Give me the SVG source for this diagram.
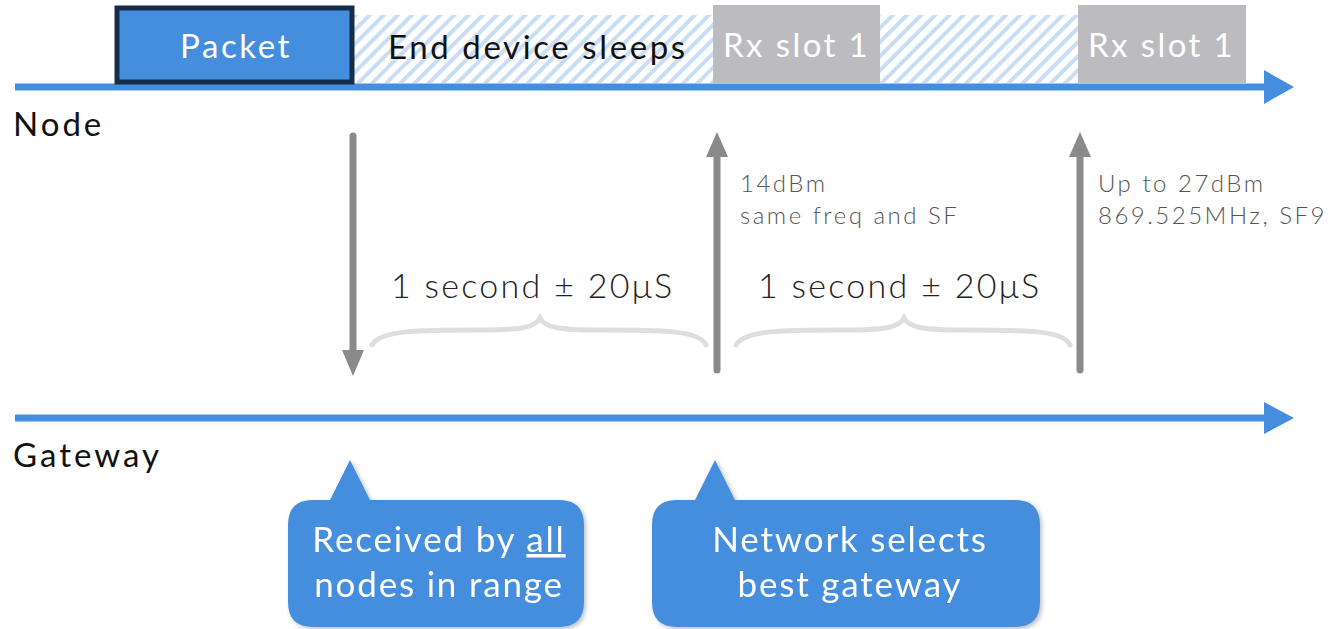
<svg xmlns="http://www.w3.org/2000/svg" width="1335" height="629" viewBox="0 0 1335 629">
  <defs>
    <pattern id="hatch" patternUnits="userSpaceOnUse" width="10" height="10" patternTransform="rotate(45)">
      <rect width="10" height="10" fill="#ffffff"/>
      <rect width="4" height="10" fill="#c9def5"/>
    </pattern>
    <filter id="soft" x="-10%" y="-10%" width="130%" height="130%">
      <feDropShadow dx="2" dy="2" stdDeviation="2" flood-color="#000" flood-opacity="0.25"/>
    </filter>
  </defs>
  <style>
    text { font-family: Lato, "Noto Sans", "Liberation Sans", sans-serif; }
    .slot { fill: #bcbbc0; }
    .slotText { fill: #ffffff; font-size: 33px; letter-spacing: 2.4px; }
    .axis { stroke: #448ddf; stroke-width: 7; fill: none; }
    .axisHead { fill: #448ddf; }
    .axisLabel { fill: #111111; font-size: 33px; letter-spacing: 3px; }
    .sig { stroke: #8a8a8a; stroke-width: 7; stroke-linecap: round; fill: none; }
    .note { fill: #555555; font-size: 24px; font-weight: 300; letter-spacing: 2.5px; }
    .dur { fill: #222222; font-size: 34px; font-weight: 300; letter-spacing: 2.3px; }
    .brace { stroke: #dedede; stroke-width: 5; fill: none; stroke-linecap: round; }
    .bubble { fill: #458ede; }
    .bubbleText { fill: #ffffff; font-size: 35px; text-anchor: middle; letter-spacing: 1.8px; }
  </style>

  <!-- sleep periods -->
  <g id="sleep">
    <rect x="354" y="15" width="360" height="68" fill="url(#hatch)"/>
    <rect x="880" y="15" width="198" height="68" fill="url(#hatch)"/>
    <text x="388" y="59" fill="#111111" font-size="33" letter-spacing="2.6">End device sleeps</text>
  </g>

  <!-- receive windows -->
  <g id="rx1">
    <rect class="slot" x="713" y="5" width="167" height="78"/>
    <text class="slotText" x="723" y="57">Rx slot 1</text>
  </g>
  <g id="rx2">
    <rect class="slot" x="1078" y="5" width="168" height="78"/>
    <text class="slotText" x="1088" y="57">Rx slot 1</text>
  </g>

  <!-- timelines, signals and braces -->
  <g id="connectors">
    <line class="axis" x1="15" y1="87" x2="1266" y2="87"/>
    <path class="axisHead" d="M1264,70 L1294,87 L1264,104 Z"/>
    <line class="axis" x1="15" y1="418" x2="1266" y2="418"/>
    <path class="axisHead" d="M1264,402 L1294,418 L1264,434 Z"/>

    <!-- uplink and downlink signals -->
    <line class="sig" x1="353" y1="136" x2="353" y2="352"/>
    <path d="M342,350 L364,350 L353,376 Z" fill="#8a8a8a"/>
    <line class="sig" x1="717" y1="370" x2="717" y2="155"/>
    <path d="M706,157 L728,157 L717,132 Z" fill="#8a8a8a"/>
    <line class="sig" x1="1080" y1="370" x2="1080" y2="155"/>
    <path d="M1069,157 L1091,157 L1080,132 Z" fill="#8a8a8a"/>

    <!-- duration braces -->
    <path class="brace" d="M372,345 C380,330 420,330 480,330 C520,330 535,328 540,318 C545,328 560,330 600,330 C660,330 700,330 706,345"/>
    <path class="brace" d="M736,345 C744,330 784,330 844,330 C884,330 899,328 904,318 C909,328 924,330 964,330 C1024,330 1064,330 1070,345"/>
  </g>

  <!-- transmitted packet -->
  <g id="packet">
    <rect x="117" y="8" width="235" height="74" fill="#458ede" stroke="#152c4a" stroke-width="5"/>
    <text x="180" y="58" fill="#ffffff" font-size="33" letter-spacing="2.6">Packet</text>
  </g>

  <g id="labels">
    <text class="axisLabel" x="13" y="136">Node</text>
    <text class="axisLabel" x="13" y="467">Gateway</text>
    <text class="note" x="740" y="192">14dBm</text>
    <text class="note" x="740" y="224">same freq and SF</text>
    <text class="note" x="1098" y="192">Up to 27dBm</text>
    <text class="note" x="1098" y="224">869.525MHz, SF9</text>
    <text class="dur" x="391" y="298">1 second ± 20μS</text>
    <text class="dur" x="758" y="298">1 second ± 20μS</text>
  </g>

  <!-- callouts -->
  <g id="callout-received" filter="url(#soft)">
    <path class="bubble" d="M313,500 L330,500 L350,460 L370,500 L559,500 Q584,500 584,525 L584,602 Q584,627 559,627 L313,627 Q288,627 288,602 L288,525 Q288,500 313,500 Z"/>
    <text class="bubbleText" x="439" y="552">Received by <tspan text-decoration="underline">all</tspan></text>
    <text class="bubbleText" x="439" y="597">nodes in range</text>
  </g>
  <g id="callout-network" filter="url(#soft)">
    <path class="bubble" d="M677,500 L695,500 L715,460 L735,500 L1015,500 Q1040,500 1040,525 L1040,602 Q1040,627 1015,627 L677,627 Q652,627 652,602 L652,525 Q652,500 677,500 Z"/>
    <text class="bubbleText" x="850" y="552">Network selects</text>
    <text class="bubbleText" x="850" y="597">best gateway</text>
  </g>
</svg>
